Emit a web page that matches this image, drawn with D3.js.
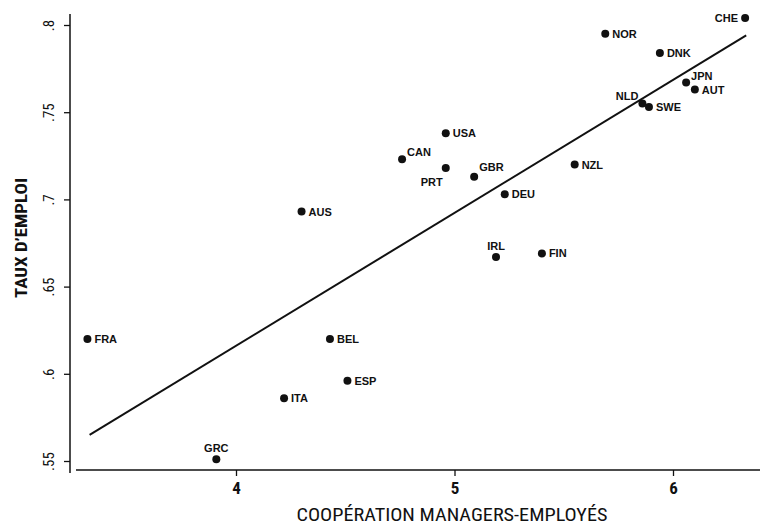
<!DOCTYPE html>
<html>
<head>
<meta charset="utf-8">
<script src="https://cdn.jsdelivr.net/npm/d3@7"></script>
<style>
  body { margin: 0; background: #fff; }
  text { fill: #111; }
</style>
</head>
<body>
<svg id="chart" width="760" height="526"></svg>
<script>

// countries, cooperation score (x), employment rate (y)
var countries = ["CHE","NOR","DNK","JPN","AUT","NLD","SWE","USA","CAN","PRT","GBR","NZL","DEU","IRL","FIN","AUS","FRA","BEL","ESP","ITA","GRC"];
var cooperation = [6.33,5.69,5.94,6.06,6.10,5.86,5.89,4.96,4.76,4.96,5.09,5.55,5.23,5.19,5.40,4.30,3.32,4.43,4.51,4.22,3.91];
var employment = [0.804,0.795,0.784,0.767,0.763,0.755,0.753,0.738,0.723,0.718,0.713,0.720,0.703,0.667,0.669,0.693,0.620,0.620,0.596,0.586,0.551];

// fitted line, read from the end points
var fitX = [3.33, 6.335];
var fitY = [0.565, 0.794];

var xTicks = [4,5,6];
var yTicks = [0.55,0.6,0.65,0.7,0.75,0.8];
var yTickLabels = [".55",".6",".65",".7",".75",".8"];

var svg = d3.select('#chart');
var narrow = '"Liberation Sans Narrow", "Arial Narrow", "Roboto Condensed", "Liberation Sans", Arial, sans-serif';

xScale = d3.scaleLinear().domain([4,6]).range([236,673]);
yScale = d3.scaleLinear().domain([0.55,0.8]).range([461,25]);

// axes
let xAxis = d3.axisBottom(xScale).tickValues(xTicks).tickFormat(d3.format('d')).tickSize(6).tickSizeOuter(0);
let yAxis = d3.axisLeft(yScale).tickValues(yTicks).tickFormat((d,i)=>yTickLabels[i]).tickSize(6).tickSizeOuter(0);

let gx = svg.append('g')
    .attr('transform', `translate(0, 470)`)
    .call(xAxis);
gx.select('.domain').attr('d', 'M76,0H760').attr('stroke','#111').attr('stroke-width',1.5);
gx.selectAll('.tick line').attr('stroke','#111').attr('stroke-width',1.3);
gx.selectAll('.tick text')
    .attr('font-family', narrow)
    .attr('font-size','17px')
    .attr('font-weight','bold')
    .attr('fill','#111')
    .attr('y', 12);

let gy = svg.append('g')
    .attr('transform', `translate(70, 0)`)
    .call(yAxis);
gy.select('.domain').attr('d', 'M0,14V473').attr('stroke','#111').attr('stroke-width',1.5);
gy.selectAll('.tick line').attr('stroke','#111').attr('stroke-width',1.3);
gy.selectAll('.tick text')
    .attr('font-family', narrow)
    .attr('font-size','15px')
    .attr('fill','#111')
    .attr('x', 0).attr('dy', 0)
    .attr('text-anchor','middle')
    .attr('transform', 'translate(-16,0) rotate(-90)');

// axis titles
svg.append('text')
    .attr('x', 452).attr('y', 521)
    .attr('text-anchor','middle')
    .attr('font-family', narrow)
    .attr('font-size','18px')
    .attr('textLength', 311)
    .attr('lengthAdjust','spacingAndGlyphs')
    .text('COOPÉRATION MANAGERS-EMPLOYÉS');

svg.append('text')
    .attr('transform', 'translate(27,238) rotate(-90)')
    .attr('text-anchor','middle')
    .attr('font-family', narrow)
    .attr('font-size','16px')
    .attr('font-weight','bold')
    .attr('textLength', 120)
    .attr('lengthAdjust','spacingAndGlyphs')
    .text("TAUX D\u2019EMPLOI");

// fitted line
svg.append('line')
    .attr('x1', xScale(fitX[0])).attr('y1', yScale(fitY[0]))
    .attr('x2', xScale(fitX[1])).attr('y2', yScale(fitY[1]))
    .attr('stroke','#111')
    .attr('stroke-width',2);

var pts = countries.map((c,i)=>({name:c, x:cooperation[i], y:employment[i]}));

// label placement (default: right of the dot)
var labelLeft = ["CHE","NLD"];
var labelBelowLeft = ["PRT"];
var labelAboveRight = ["CAN","GBR","JPN"];
var labelAbove = ["IRL","GRC"];

let g = svg.append('g');
g.selectAll('circle')
    .data(pts)
    .enter()
    .append('circle')
    .attr('cx', d=>xScale(d.x))
    .attr('cy', d=>yScale(d.y))
    .attr('r', 4)
    .attr('fill','#111');

g.selectAll('text.lab')
    .data(pts)
    .enter()
    .append('text')
    .attr('class','lab')
    .attr('font-family','"Liberation Sans", Arial, sans-serif')
    .attr('font-size','11px')
    .attr('font-weight','bold')
    .attr('x', function(d){
        let cx = xScale(d.x);
        if (labelLeft.includes(d.name)) return d.name=="NLD" ? cx-4 : cx-7;
        if (labelBelowLeft.includes(d.name)) return cx-3;
        if (labelAboveRight.includes(d.name)) return cx+5;
        if (labelAbove.includes(d.name)) return cx;
        return cx+7;
    })
    .attr('y', function(d){
        let cy = yScale(d.y);
        if (d.name=="NLD") return cy-3;
        if (labelBelowLeft.includes(d.name)) return cy+18;
        if (labelAboveRight.includes(d.name)) return d.name=="GBR" ? cy-6 : cy-3;
        if (labelAbove.includes(d.name)) return cy-7;
        return cy+4;
    })
    .attr('text-anchor', function(d){
        if (labelLeft.includes(d.name) || labelBelowLeft.includes(d.name)) return 'end';
        if (labelAbove.includes(d.name)) return 'middle';
        return 'start';
    })
    .text(d=>d.name);

</script>
</body>
</html>
